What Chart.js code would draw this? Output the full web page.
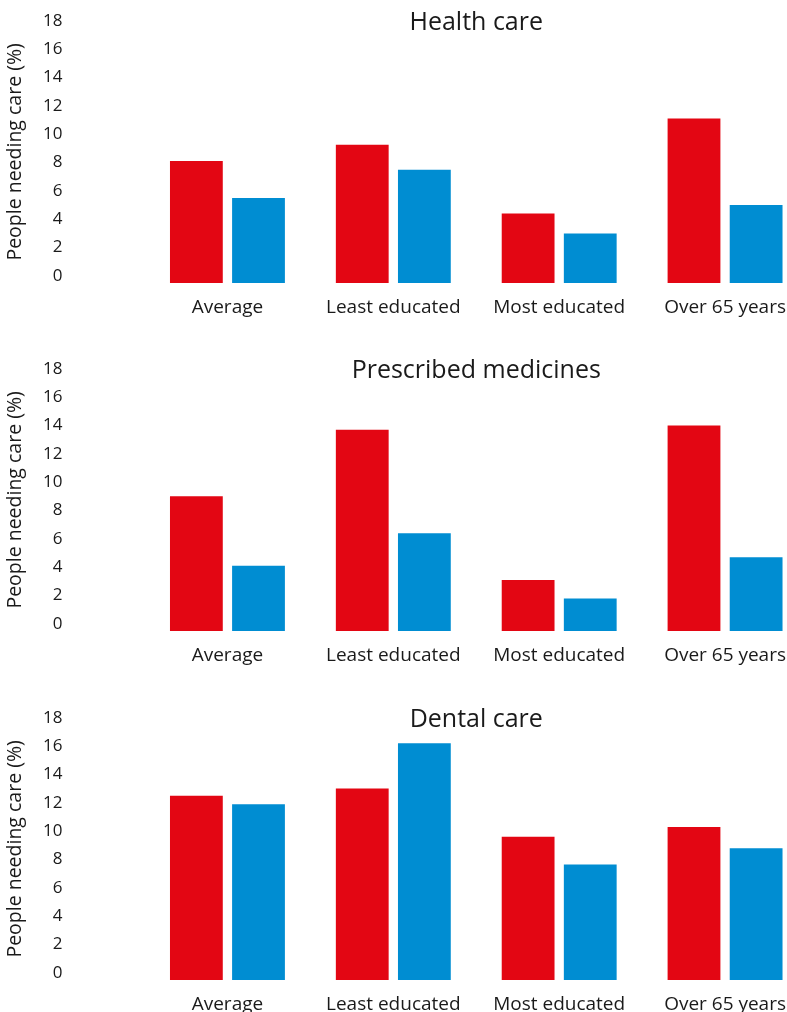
<!DOCTYPE html>
<html lang="en">
<head>
<meta charset="utf-8">
<title>People needing care</title>
<script src="https://cdn.jsdelivr.net/npm/chart.js@4.4.1/dist/chart.umd.min.js"></script>
<style>
    html, body {
        margin: 0;
        padding: 0;
        background: #ffffff;
        overflow: hidden;
    }
    .panel {
        position: absolute;
        left: 0;
        width: 952px;
        height: 349px;
    }
</style>
</head>
<body>
<div class="panel" style="top: 0px;"><canvas id="health-chart"></canvas></div>
<div class="panel" style="top: 348px;"><canvas id="medicine-chart"></canvas></div>
<div class="panel" style="top: 697px;"><canvas id="dental-chart"></canvas></div>

<script>
// Categories and tick labels shared by all three panels
const categories = ['Average', 'Least educated', 'Most educated', 'Over 65 years'];
const yTicks = [0, 2, 4, 6, 8, 10, 12, 14, 16, 18];

// Values (% of people needing care)
const healthRed = [8.1, 9.25, 4.4, 11.1];
const healthBlue = [5.5, 7.5, 3.0, 5.0];

const medicineRed = [9.0, 13.7, 3.1, 14.0];
const medicineBlue = [4.1, 6.4, 1.8, 4.7];

const dentalRed = [12.5, 13.0, 9.6, 10.3];
const dentalBlue = [11.9, 16.2, 7.65, 8.8];

const RED = '#e30613';
const BLUE = '#008dd2';
const TEXT = '#1a1a1a';
const FONT = '"Open Sans", "Noto Sans", sans-serif';

// Draws the panel heading centred over the plot area
const panelTitle = {
    id: 'panelTitle',
    afterDraw(chart, args, opts) {
        const { ctx, chartArea } = chart;
        ctx.save();
        ctx.font = `25px ${FONT}`;
        ctx.fillStyle = TEXT;
        ctx.textAlign = 'center';
        ctx.textBaseline = 'alphabetic';
        ctx.fillText(opts.text, (chartArea.left + chartArea.right) / 2, opts.baseline);
        ctx.restore();
    }
};

function makePanel(canvasId, title, redValues, blueValues) {
    const ctx = document.getElementById(canvasId).getContext('2d');
    return new Chart(ctx, {
        type: 'bar',
        data: {
            labels: categories,
            datasets: [
                { label: 'Red', data: redValues, backgroundColor: RED },
                { label: 'Blue', data: blueValues, backgroundColor: BLUE }
            ]
        },
        options: {
            responsive: true,
            maintainAspectRatio: false,
            animation: false,
            layout: {
                padding: { top: 20.7, right: 144, bottom: 0, left: 0 }
            },
            datasets: {
                bar: {
                    base: -0.5,
                    categoryPercentage: 0.749,
                    barPercentage: 0.85,
                    borderWidth: 0
                }
            },
            plugins: {
                legend: { display: false },
                tooltip: { enabled: false },
                panelTitle: { text: title, baseline: 29.5 }
            },
            scales: {
                x: {
                    grid: { display: false, drawTicks: false },
                    border: { display: false },
                    ticks: {
                        color: TEXT,
                        padding: 13,
                        maxRotation: 0,
                        autoSkip: false,
                        font: { family: FONT, size: 19 }
                    },
                    afterFit: scale => { scale.height = 65.9; }
                },
                y: {
                    min: -0.5,
                    max: 18,
                    grid: { display: false, drawTicks: false },
                    border: { display: false },
                    ticks: {
                        color: TEXT,
                        padding: 82,
                        font: { family: FONT, size: 17 }
                    },
                    afterBuildTicks: axis => {
                        axis.ticks = yTicks.map(v => ({ value: v }));
                    },
                    title: {
                        display: true,
                        text: 'People needing care (%)',
                        color: TEXT,
                        padding: { top: 4, bottom: 0 },
                        font: { family: FONT, size: 19.5 }
                    },
                    afterFit: scale => {
                        // wide label gap should not push the plot area down
                        scale.width = 144.5;
                        scale.paddingTop = 10;
                        scale.paddingBottom = 0;
                    }
                }
            }
        },
        plugins: [panelTitle]
    });
}

makePanel('health-chart', 'Health care', healthRed, healthBlue);
makePanel('medicine-chart', 'Prescribed medicines', medicineRed, medicineBlue);
makePanel('dental-chart', 'Dental care', dentalRed, dentalBlue);
</script>
</body>
</html>
